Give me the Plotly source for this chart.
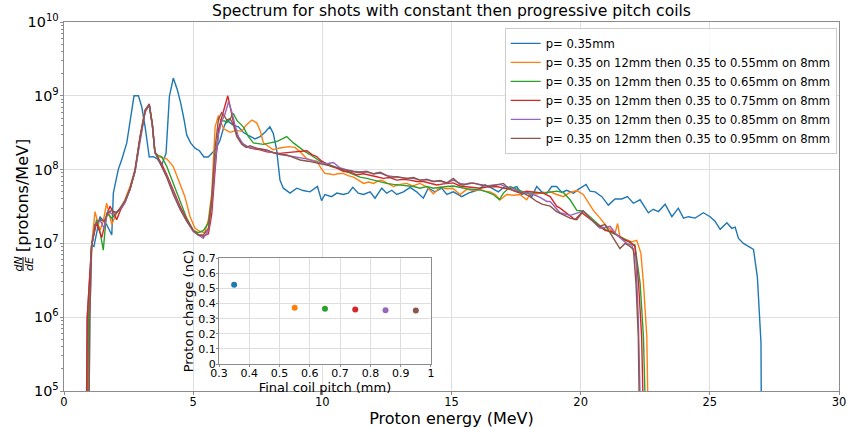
import plotly.graph_objects as go

# ---------------- spectra (energy in MeV, dN/dE in protons/MeV) ----------------
names = [
    "p= 0.35mm",
    "p= 0.35 on 12mm then 0.35 to 0.55mm on 8mm",
    "p= 0.35 on 12mm then 0.35 to 0.65mm on 8mm",
    "p= 0.35 on 12mm then 0.35 to 0.75mm on 8mm",
    "p= 0.35 on 12mm then 0.35 to 0.85mm on 8mm",
    "p= 0.35 on 12mm then 0.35 to 0.95mm on 8mm",
]
colors = ["#1f77b4", "#ff7f0e", "#2ca02c", "#d62728", "#9467bd", "#8c564b"]

e_035 = [0.85, 0.90, 1.07, 1.16, 1.39, 1.65, 1.85, 1.91, 2.10, 2.23, 2.43, 2.56, 2.71, 2.88, 3.01, 3.14,
         3.30, 3.46, 3.61, 3.78, 3.95, 4.08, 4.23, 4.39, 4.52, 4.65, 4.75, 4.90, 5.07, 5.24, 5.42, 5.58,
         5.78, 5.91, 6.04, 6.17, 6.30, 6.43, 6.55, 6.75, 6.94, 7.14, 7.39, 7.59, 7.78, 7.97, 8.10, 8.23,
         8.36, 8.49, 8.75, 9.01, 9.26, 9.52, 9.81, 9.97, 10.10, 10.36, 10.56, 10.81, 11.00, 11.18, 11.39,
         11.59, 11.85, 12.04, 12.30, 12.49, 12.69, 12.88, 13.14, 13.40, 13.65, 13.91, 14.10, 14.36, 14.62,
         14.82, 15.07, 15.40, 15.65, 15.98, 16.30, 16.56, 16.81, 17.07, 17.33, 17.53, 17.72, 17.91, 18.11,
         18.30, 18.49, 18.69, 18.88, 19.07, 19.27, 19.46, 19.72, 19.91, 20.21, 20.36, 20.56, 20.82, 21.07,
         21.33, 21.59, 21.81, 22.04, 22.30, 22.62, 22.81, 23.01, 23.27, 23.53, 23.78, 23.98, 24.17, 24.43,
         24.75, 25.01, 25.20, 25.40, 25.66, 25.85, 25.98, 26.11, 26.30, 26.49, 26.69, 26.84, 26.92, 26.98,
         27.02]
n_035 = [1e4, 1.0e6, 9.5e6, 9.1e6, 2.3e7, 1.8e7, 1.3e7, 4.8e7, 1.0e8, 1.35e8, 2.3e8, 4.3e8, 1.0e9, 1.0e9,
         7.1e8, 3.8e8, 1.48e8, 1.5e8, 1.4e8, 1.15e8, 1.66e8, 9.8e8, 1.74e9, 1.2e9, 7.9e8, 4.7e8, 2.95e8,
         2.3e8, 1.95e8, 1.8e8, 1.48e8, 1.48e8, 1.74e8, 2.0e8, 2.5e8, 3.6e8, 4.7e8, 4.3e8, 4.0e8, 3.8e8,
         3.2e8, 2.9e8, 2.6e8, 2.8e8, 3.2e8, 3.8e8, 3.1e8, 1.86e8, 7.2e7, 5.6e7, 4.8e7, 5.6e7, 5.2e7, 5.0e7,
         5.9e7, 3.8e7, 4.6e7, 4.3e7, 4.8e7, 4.6e7, 4.8e7, 5.75e7, 4.8e7, 4.6e7, 5.0e7, 4.1e7, 5.6e7, 4.8e7,
         5.25e7, 4.6e7, 5.0e7, 5.75e7, 5.0e7, 4.1e7, 5.6e7, 5.0e7, 5.6e7, 4.6e7, 5.0e7, 4.3e7, 4.8e7,
         5.25e7, 6.2e7, 5.6e7, 5.0e7, 5.9e7, 5.6e7, 5.9e7, 4.6e7, 5.0e7, 4.3e7, 5.9e7, 5.0e7, 4.8e7, 5.9e7,
         5.9e7, 4.9e7, 5.25e7, 4.8e7, 5.4e7, 6.3e7, 5.1e7, 5.0e7, 4.3e7, 3.3e7, 4.0e7, 4.0e7, 4.3e7, 3.5e7,
         3.9e7, 2.6e7, 2.9e7, 2.7e7, 3.4e7, 2.3e7, 3.0e7, 2.2e7, 2.3e7, 2.2e7, 2.6e7, 2.3e7, 2.0e7, 1.55e7,
         1.9e7, 1.6e7, 1.66e7, 1.17e7, 1.0e7, 9.1e6, 8.3e6, 3.5e6, 1.26e6, 4.5e5, 1e3]

e_055 = [0.90, 0.95, 1.07, 1.20, 1.39, 1.52, 1.65, 1.85, 2.04, 2.20, 2.36, 2.56, 2.75, 2.94, 3.14, 3.30,
         3.42, 3.52, 3.65, 3.78, 3.98, 4.23, 4.49, 4.68, 4.88, 5.07, 5.27, 5.45, 5.59, 5.72, 5.85, 5.98,
         6.17, 6.43, 6.69, 6.88, 7.05, 7.27, 7.46, 7.60, 7.72, 7.90, 8.10, 8.30, 8.49, 8.70, 8.94, 9.14,
         9.40, 9.60, 9.78, 9.95, 10.10, 10.30, 10.43, 10.60, 10.81, 11.00, 11.20, 11.40, 11.59, 11.80,
         11.98, 12.15, 12.30, 12.50, 12.75, 13.00, 13.27, 13.50, 13.78, 14.05, 14.30, 14.56, 14.80, 15.05,
         15.33, 15.59, 15.85, 16.10, 16.30, 16.49, 16.70, 16.88, 17.14, 17.40, 17.65, 17.91, 18.04, 18.30,
         18.55, 18.82, 19.07, 19.33, 19.59, 19.85, 20.10, 20.30, 20.49, 20.75, 21.01, 21.20, 21.33, 21.43,
         21.52, 21.78, 21.98, 22.17, 22.33, 22.43, 22.56, 22.64]
n_055 = [1e4, 1.0e6, 9.5e6, 2.7e7, 1.5e7, 2.0e7, 3.5e7, 1.8e7, 2.6e7, 3.0e7, 3.9e7, 6.0e7, 1.0e8, 2.8e8,
         6.5e8, 7.6e8, 4.0e8, 1.7e8, 1.5e8, 1.45e8, 1.4e8, 1.1e8, 6.5e7, 4.3e7, 2.3e7, 1.6e7, 1.45e7, 1.4e7,
         2.1e7, 4.8e7, 3.8e8, 5.4e8, 3.6e8, 3.2e8, 3.4e8, 3.3e8, 4.0e8, 4.7e8, 4.3e8, 3.3e8, 2.3e8, 2.1e8,
         1.86e8, 1.95e8, 2.0e8, 2.05e8, 2.0e8, 1.74e8, 1.4e8, 1.35e8, 1.3e8, 1.05e8, 8.9e7, 8.7e7, 8.5e7,
         8.8e7, 8.9e7, 8.3e7, 7.9e7, 7.2e7, 6.5e7, 6.8e7, 6.5e7, 7.0e7, 7.2e7, 6.6e7, 5.9e7, 6.3e7, 6.5e7,
         6.0e7, 6.5e7, 5.8e7, 4.7e7, 5.8e7, 5.5e7, 5.6e7, 4.6e7, 5.4e7, 5.2e7, 5.4e7, 5.1e7, 5.0e7, 4.6e7,
         3.9e7, 4.6e7, 4.5e7, 4.6e7, 3.9e7, 4.6e7, 4.7e7, 4.8e7, 5.0e7, 4.6e7, 4.3e7, 4.9e7, 5.2e7, 4.6e7,
         3.6e7, 2.8e7, 2.2e7, 1.7e7, 1.5e7, 1.38e7, 1.86e7, 1.23e7, 1.12e7, 1.05e7, 1.1e7, 7.4e6, 2.9e6,
         5.5e5, 1e4]

e_065 = [0.90, 0.95, 1.07, 1.26, 1.40, 1.52, 1.65, 1.85, 2.04, 2.20, 2.36, 2.56, 2.75, 2.94, 3.14, 3.30,
         3.42, 3.52, 3.65, 3.78, 3.98, 4.23, 4.49, 4.75, 5.00, 5.20, 5.40, 5.59, 5.72, 5.85, 5.98, 6.10,
         6.20, 6.30, 6.42, 6.55, 6.70, 6.94, 7.14, 7.33, 7.52, 7.72, 7.98, 8.23, 8.45, 8.62, 8.88, 9.14,
         9.33, 9.52, 9.72, 9.91, 10.17, 10.43, 10.70, 10.94, 11.20, 11.46, 11.72, 11.98, 12.24, 12.49,
         12.75, 13.00, 13.27, 13.53, 13.78, 14.04, 14.30, 14.56, 14.82, 15.07, 15.33, 15.59, 15.85, 16.10,
         16.36, 16.62, 16.85, 17.01, 17.27, 17.52, 17.78, 18.04, 18.30, 18.55, 18.82, 19.07, 19.33, 19.59,
         19.85, 20.10, 20.36, 20.69, 21.01, 21.20, 21.40, 21.60, 21.78, 21.95, 22.10, 22.30, 22.43, 22.56]
n_065 = [1e4, 1.0e6, 9.5e6, 2.1e7, 1.4e7, 8.1e6, 2.6e7, 2.2e7, 2.6e7, 3.0e7, 3.6e7, 5.5e7, 9.5e7, 2.6e8,
         6.2e8, 7.4e8, 4.0e8, 1.7e8, 1.55e8, 1.5e8, 1.1e8, 6.5e7, 3.6e7, 2.2e7, 1.5e7, 1.4e7, 1.5e7, 1.9e7,
         4.0e7, 1.3e8, 3.2e8, 4.5e8, 4.6e8, 4.3e8, 4.8e8, 5.8e8, 4.6e8, 3.8e8, 2.8e8, 2.3e8, 2.25e8, 2.2e8,
         2.3e8, 2.4e8, 2.6e8, 2.8e8, 2.3e8, 1.95e8, 1.75e8, 1.6e8, 1.45e8, 1.3e8, 1.2e8, 1.1e8, 1.0e8,
         9.3e7, 8.5e7, 7.9e7, 7.6e7, 7.2e7, 6.9e7, 6.5e7, 6.3e7, 6.2e7, 6.0e7, 5.9e7, 5.6e7, 5.9e7, 5.6e7,
         5.8e7, 5.9e7, 6.0e7, 5.7e7, 5.5e7, 5.4e7, 5.3e7, 5.0e7, 4.6e7, 3.9e7, 4.8e7, 5.9e7, 5.5e7, 5.0e7,
         4.8e7, 4.9e7, 4.8e7, 5.0e7, 5.1e7, 4.9e7, 3.9e7, 2.8e7, 2.75e7, 2.3e7, 1.8e7, 1.5e7, 1.4e7, 1.3e7,
         1.2e7, 1.1e7, 1.0e7, 9.5e6, 2.9e6, 5.5e5, 1e4]

e_075 = [0.86, 0.90, 1.07, 1.26, 1.46, 1.65, 1.78, 2.04, 2.20, 2.36, 2.56, 2.75, 2.94, 3.14, 3.30, 3.42,
         3.52, 3.65, 3.78, 3.98, 4.23, 4.49, 4.75, 5.00, 5.20, 5.39, 5.59, 5.72, 5.85, 5.98, 6.10, 6.20,
         6.34, 6.43, 6.56, 6.69, 6.88, 7.05, 7.20, 7.40, 7.59, 7.85, 8.10, 8.36, 8.62, 8.88, 9.14, 9.40,
         9.60, 9.78, 9.98, 10.17, 10.36, 10.56, 10.81, 11.07, 11.33, 11.59, 11.85, 12.10, 12.36, 12.62,
         12.88, 13.14, 13.40, 13.65, 13.91, 14.17, 14.43, 14.69, 15.07, 15.33, 15.59, 15.85, 16.10, 16.36,
         16.75, 17.01, 17.27, 17.52, 17.65, 17.91, 18.17, 18.36, 18.55, 18.82, 19.07, 19.20, 19.52, 19.78,
         20.04, 20.30, 20.62, 20.94, 21.20, 21.52, 21.72, 21.91, 22.10, 22.24, 22.36, 22.47]
n_075 = [1e4, 1.0e6, 9.5e6, 1.9e7, 1.2e7, 2.3e7, 3.2e7, 2.1e7, 2.9e7, 3.6e7, 5.5e7, 9.5e7, 2.6e8, 6.2e8,
         7.6e8, 4.0e8, 1.7e8, 1.45e8, 1.2e8, 8.5e7, 5.2e7, 3.2e7, 2.1e7, 1.5e7, 1.3e7, 1.25e7, 1.35e7,
         2.5e7, 1.0e8, 3.5e8, 5.0e8, 6.5e8, 1.0e9, 7.2e8, 4.3e8, 3.0e8, 2.3e8, 2.1e8, 1.95e8, 1.9e8, 1.86e8,
         1.74e8, 1.7e8, 1.66e8, 1.7e8, 1.72e8, 1.74e8, 1.8e8, 1.6e8, 1.5e8, 1.3e8, 1.2e8, 1.1e8, 1.05e8,
         9.5e7, 9.3e7, 8.5e7, 8.8e7, 8.3e7, 8.0e7, 7.6e7, 7.8e7, 7.2e7, 7.4e7, 7.2e7, 6.9e7, 6.9e7, 6.6e7,
         6.2e7, 6.4e7, 6.6e7, 6.0e7, 5.9e7, 5.7e7, 5.6e7, 5.8e7, 5.9e7, 5.6e7, 5.4e7, 5.0e7, 4.8e7, 5.1e7,
         5.0e7, 4.9e7, 4.8e7, 4.3e7, 3.2e7, 3.0e7, 2.45e7, 2.1e7, 2.6e7, 2.2e7, 1.8e7, 1.5e7, 1.45e7,
         1.23e7, 1.1e7, 1.05e7, 9.1e6, 2.9e6, 5.5e5, 1e4]

e_085 = [0.95, 1.00, 1.07, 1.20, 1.39, 1.55, 1.70, 1.85, 2.04, 2.20, 2.36, 2.56, 2.75, 2.94, 3.14, 3.30,
         3.42, 3.52, 3.65, 3.78, 3.98, 4.23, 4.49, 4.75, 5.00, 5.20, 5.39, 5.59, 5.72, 5.85, 5.98, 6.10,
         6.22, 6.37, 6.50, 6.62, 6.75, 6.94, 7.14, 7.33, 7.59, 7.85, 8.10, 8.36, 8.62, 8.88, 9.14, 9.40,
         9.65, 9.91, 10.17, 10.43, 10.69, 10.94, 11.20, 11.46, 11.72, 11.98, 12.24, 12.49, 12.75, 13.00,
         13.27, 13.53, 13.78, 14.04, 14.30, 14.56, 14.82, 15.07, 15.33, 15.59, 15.85, 16.10, 16.36, 16.62,
         16.88, 17.14, 17.40, 17.65, 17.91, 18.17, 18.43, 18.69, 18.82, 19.20, 19.59, 19.91, 20.10, 20.36,
         20.75, 21.14, 21.40, 21.78, 21.98, 22.14, 22.23, 22.36]
n_085 = [1e4, 1.0e6, 9.0e6, 1.8e7, 2.1e7, 1.6e7, 2.8e7, 2.5e7, 2.7e7, 3.0e7, 3.6e7, 5.5e7, 9.5e7, 2.5e8,
         6.0e8, 7.5e8, 4.0e8, 1.7e8, 1.4e8, 1.1e8, 8.0e7, 4.8e7, 3.0e7, 2.0e7, 1.45e7, 1.3e7, 1.17e7, 1.5e7,
         3.5e7, 1.2e8, 3.0e8, 4.5e8, 5.5e8, 8.3e8, 6.0e8, 4.0e8, 2.8e8, 2.2e8, 2.0e8, 1.95e8, 1.9e8, 1.8e8,
         1.7e8, 1.6e8, 1.55e8, 1.5e8, 1.45e8, 1.4e8, 1.3e8, 1.25e8, 1.2e8, 1.25e8, 1.05e8, 1.0e8, 9.5e7,
         9.3e7, 9.5e7, 8.7e7, 9.0e7, 8.3e7, 8.0e7, 7.9e7, 7.6e7, 7.6e7, 7.2e7, 7.4e7, 6.9e7, 7.0e7, 6.6e7,
         7.2e7, 6.5e7, 6.3e7, 6.6e7, 6.2e7, 6.0e7, 6.2e7, 6.3e7, 5.8e7, 5.5e7, 5.0e7, 4.8e7, 4.6e7, 4.2e7,
         3.7e7, 3.7e7, 2.6e7, 2.4e7, 2.6e7, 2.75e7, 2.2e7, 1.6e7, 1.7e7, 1.3e7, 1.0e7, 9.5e6, 6.0e6, 1.0e6,
         1e4]

e_095 = [0.95, 1.00, 1.07, 1.20, 1.39, 1.55, 1.70, 1.85, 2.04, 2.20, 2.36, 2.56, 2.75, 2.94, 3.14, 3.30,
         3.42, 3.52, 3.65, 3.78, 3.98, 4.23, 4.49, 4.75, 5.00, 5.20, 5.39, 5.59, 5.72, 5.85, 5.98, 6.10,
         6.20, 6.30, 6.43, 6.56, 6.69, 6.88, 7.05, 7.20, 7.45, 7.85, 8.20, 8.62, 8.88, 9.14, 9.45, 9.78,
         10.10, 10.43, 10.81, 11.07, 11.33, 11.72, 11.98, 12.24, 12.62, 12.88, 13.27, 13.53, 13.78, 14.04,
         14.30, 14.56, 14.82, 15.07, 15.33, 15.46, 15.72, 15.98, 16.24, 16.49, 16.75, 17.01, 17.20, 17.40,
         17.60, 17.78, 18.04, 18.30, 18.50, 18.69, 18.82, 19.07, 19.33, 19.59, 19.85, 20.10, 20.36, 20.69,
         20.94, 21.27, 21.52, 21.72, 21.91, 22.04, 22.14, 22.23, 22.30]
n_095 = [1e4, 1.0e6, 9.0e6, 1.8e7, 2.1e7, 2.0e7, 2.6e7, 2.8e7, 2.6e7, 3.1e7, 3.8e7, 5.5e7, 1.0e8, 2.7e8,
         6.3e8, 7.8e8, 4.2e8, 1.75e8, 1.4e8, 1.1e8, 7.8e7, 4.6e7, 2.9e7, 2.0e7, 1.5e7, 1.3e7, 1.3e7, 1.6e7,
         4.0e7, 2.0e8, 4.8e8, 5.9e8, 5.4e8, 4.7e8, 4.9e8, 4.0e8, 2.8e8, 2.2e8, 2.0e8, 2.1e8, 1.95e8, 1.85e8,
         1.65e8, 1.58e8, 1.45e8, 1.35e8, 1.3e8, 1.23e8, 1.15e8, 1.1e8, 1.0e8, 9.5e7, 9.2e7, 9.3e7, 8.8e7,
         9.2e7, 7.9e7, 8.0e7, 7.6e7, 7.8e7, 7.2e7, 7.3e7, 6.9e7, 7.1e7, 6.6e7, 7.6e7, 6.3e7, 6.2e7, 6.6e7,
         6.4e7, 6.1e7, 5.9e7, 6.2e7, 6.5e7, 5.6e7, 5.2e7, 5.0e7, 4.8e7, 4.3e7, 3.7e7, 3.4e7, 3.3e7, 3.2e7,
         2.7e7, 2.45e7, 2.2e7, 2.1e7, 2.75e7, 2.2e7, 1.7e7, 1.8e7, 1.17e7, 8.5e6, 1.0e7, 9.1e6, 8.3e6,
         2.9e6, 5.5e5, 1e4]

energies = [e_035, e_055, e_065, e_075, e_085, e_095]
spectra = [n_035, n_055, n_065, n_075, n_085, n_095]

# ---------------- total charge vs final pitch (inset) ----------------
final_pitch = [0.35, 0.55, 0.65, 0.75, 0.85, 0.95]
charge_nC = [0.524, 0.372, 0.365, 0.360, 0.356, 0.354]

GRID = "#dedede"
SPINE = "#8c8c8c"
FONT = "DejaVu Sans"

E_RANGE = [0, 30]
LOG_RANGE = [5, 10]
INSET_X = [0.2, 0.4735]
INSET_Y = [0.073, 0.36]

fig = go.Figure()
for name, e, n, c in zip(names, energies, spectra, colors):
    fig.add_trace(go.Scatter(x=e, y=n, mode="lines", name=name,
                             line=dict(color=c, width=1.4)))

for p, q, c in zip(final_pitch, charge_nC, colors):
    fig.add_trace(go.Scatter(x=[p], y=[q], mode="markers", xaxis="x2", yaxis="y2",
                             marker=dict(color=c, size=6), showlegend=False))

# plot-area edges in pixels, used to place the y label pieces
L, R, T, B = 64, 839, 22, 391
def px_x(x):
    return (x - L) / (R - L)
def px_y(y):
    return (B - y) / (B - T)

fig.update_layout(
    width=850, height=428,
    margin=dict(l=L, r=850 - R, t=T, b=428 - B, autoexpand=False),
    paper_bgcolor="white", plot_bgcolor="white",
    font=dict(family=FONT, color="black", size=12),
    title=dict(text="Spectrum for shots with constant then progressive pitch coils",
               x=0.5, xref="paper", xanchor="center",
               y=1 - 11 / 428, yref="container", yanchor="middle",
               font=dict(size=15.6, family=FONT)),
    xaxis=dict(range=E_RANGE, dtick=5, tick0=0, showgrid=True, gridcolor=GRID, gridwidth=1,
               zeroline=False, showline=True, mirror=True, linecolor=SPINE, linewidth=1,
               ticks="outside", ticklen=3, tickcolor=SPINE, tickfont=dict(size=11.5),
               ticklabelstandoff=-3, automargin=False,
               title=dict(text="Proton energy (MeV)", font=dict(size=16), standoff=2)),
    yaxis=dict(type="log", range=LOG_RANGE, dtick=1, exponentformat="power", showexponent="all",
               showgrid=True, gridcolor=GRID, gridwidth=1, zeroline=False,
               showline=True, mirror=True, linecolor=SPINE, linewidth=1,
               ticks="outside", ticklen=3, tickcolor=SPINE, tickfont=dict(size=11.5),
               ticklabelstandoff=-1, automargin=False,
               minor=dict(ticks="outside", ticklen=2, tickcolor=SPINE, dtick="D1", showgrid=False)),
    xaxis2=dict(domain=INSET_X, anchor="y2", range=[0.3, 1.0],
                tickvals=[0.3, 0.4, 0.5, 0.6, 0.7, 0.8, 0.9, 1.0],
                ticktext=["0.3", "0.4", "0.5", "0.6", "0.7", "0.8", "0.9", "1"],
                showgrid=True, gridcolor=GRID, zeroline=False, showline=True, mirror=True,
                linecolor=SPINE, linewidth=1, ticks="outside", ticklen=2, tickcolor=SPINE,
                tickfont=dict(size=11), ticklabelstandoff=-3, automargin=False,
                title=dict(text="Final coil pitch (mm)", font=dict(size=13), standoff=0)),
    yaxis2=dict(domain=INSET_Y, anchor="x2", range=[0, 0.7],
                tickvals=[0, 0.1, 0.2, 0.3, 0.4, 0.5, 0.6, 0.7],
                ticktext=["0", "0.1", "0.2", "0.3", "0.4", "0.5", "0.6", "0.7"],
                showgrid=True, gridcolor=GRID, zeroline=False, showline=True, mirror=True,
                linecolor=SPINE, linewidth=1, ticks="outside", ticklen=2, tickcolor=SPINE,
                tickfont=dict(size=11), ticklabelstandoff=-2, automargin=False,
                title=dict(text="Proton charge (nC)", font=dict(size=13), standoff=1)),
    legend=dict(x=0.997, y=0.984, xanchor="right", yanchor="top",
                bgcolor="rgba(255,255,255,0.8)", bordercolor="#cccccc", borderwidth=1,
                font=dict(size=11.6, family=FONT), tracegroupgap=0),
    showlegend=True,
)

# white panel behind the inset (between the main grid and the main traces)
e_span = E_RANGE[1] - E_RANGE[0]
l_span = LOG_RANGE[1] - LOG_RANGE[0]
fig.add_shape(type="rect", xref="x", yref="y",
              x0=E_RANGE[0] + INSET_X[0] * e_span, x1=E_RANGE[0] + INSET_X[1] * e_span,
              y0=10 ** (LOG_RANGE[0] + INSET_Y[0] * l_span), y1=10 ** (LOG_RANGE[0] + INSET_Y[1] * l_span),
              fillcolor="white", line=dict(width=0), layer="between")

# y label: dN/dE fraction followed by the unit
fig.add_annotation(text="[protons/MeV]", xref="paper", yref="paper",
                   x=px_x(22), y=px_y(196), textangle=-90, showarrow=False,
                   xanchor="center", yanchor="middle", font=dict(size=16, family=FONT))
fig.add_annotation(text="<i>dN</i>", xref="paper", yref="paper",
                   x=px_x(17.5), y=px_y(264), textangle=-90, showarrow=False,
                   xanchor="center", yanchor="middle", font=dict(size=11, family=FONT))
fig.add_annotation(text="<i>dE</i>", xref="paper", yref="paper",
                   x=px_x(29), y=px_y(264), textangle=-90, showarrow=False,
                   xanchor="center", yanchor="middle", font=dict(size=11, family=FONT))
fig.add_shape(type="line", xref="paper", yref="paper",
              x0=px_x(23), x1=px_x(23), y0=px_y(257), y1=px_y(271),
              line=dict(color="black", width=1))

fig.write_html("out.html")
